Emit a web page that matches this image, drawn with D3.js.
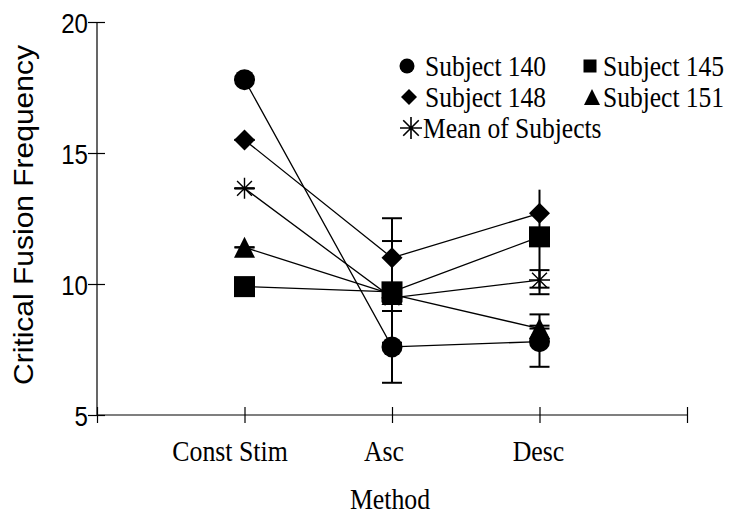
<!DOCTYPE html>
<html>
<head>
<meta charset="utf-8">
<script src="https://cdn.jsdelivr.net/npm/d3@7"></script>
<style>
  html, body { margin: 0; padding: 0; background: #fff; }
  svg { display: block; }
</style>
</head>
<body>
<div id="chart"></div>
<script>
// Critical fusion frequency by psychophysical method, four subjects plus their mean
const methods = ["Const Stim", "Asc", "Desc"];
const methodPos = [1, 2, 3];
const xTicks = [0, 1, 2, 3, 4];
const yTicks = [5, 10, 15, 20];

const seriesNames = ["Subject 140", "Subject 145", "Subject 148", "Subject 151", "Mean of Subjects"];
const seriesSymbols = ["circle", "square", "diamond", "triangle", "asterisk"];

const s140 = [17.8, 7.6, 7.8];
const s145 = [9.9, 9.7, 11.8];
const s148 = [15.5, 11.0, 12.7];
const s151 = [11.4, 9.6, 8.3];
const meanCFF = [13.65, 9.47, 10.15];

// lower / upper ends of the error bars
const s140Lo = [17.8, 6.23, 6.84];
const s140Hi = [17.8, 8.97, 8.84];
const s145Lo = [9.9, 7.76, 9.61];
const s145Hi = [9.9, 11.64, 12.0];
const s148Lo = [15.5, 9.5, 11.8];
const s148Hi = [15.5, 12.51, 13.6];
const s151Lo = [11.4, 9.5, 8.3];
const s151Hi = [11.4, 9.7, 8.41];
const meanLo = [13.65, 9.3, 9.86];
const meanHi = [13.65, 9.65, 10.53];
// whether the upper end carries a cap
const s148HiCap = [true, true, false];

const values = [s140, s145, s148, s151, meanCFF];
const lows = [s140Lo, s145Lo, s148Lo, s151Lo, meanLo];
const highs = [s140Hi, s145Hi, s148Hi, s151Hi, meanHi];
const hiCaps = [null, null, s148HiCap, null, null];

const W = 731, H = 517;
const svg = d3.select("#chart").append("svg")
  .attr("width", W).attr("height", H)
  .style("background", "#fff");

const x = d3.scaleLinear().domain([0, 4]).range([97, 687]);
const y = d3.scaleLinear().domain([5, 20]).range([415, 22]);

const sansFont = "'Liberation Sans', Arial, Helvetica, sans-serif";
const serifFont = "'Liberation Serif', 'Times New Roman', Times, serif";

// ---- axes ----
const yAxis = svg.append("g")
  .attr("transform", `translate(${x(0)},0)`)
  .call(d3.axisLeft(y).tickValues(yTicks).tickSize(9).tickPadding(0).tickFormat(d3.format("d")));
yAxis.select(".domain").attr("d", `M0,${y(20)}V${y(5)}`).attr("stroke", "#000").attr("stroke-width", 1.2);
yAxis.selectAll(".tick line").attr("x1", -9).attr("x2", 8).attr("stroke", "#000").attr("stroke-width", 1.2);
yAxis.selectAll(".tick text")
  .attr("dy", "0.36em")
  .style("font-family", sansFont)
  .style("font-size", "28px")
  .attr("fill", "#000")
  .attr("transform", "scale(0.86,1)")
  .attr("x", -9 / 0.86);

const xAxis = svg.append("g")
  .attr("transform", `translate(0,${y(5)})`)
  .call(d3.axisBottom(x).tickValues(xTicks).tickSize(8).tickFormat(""));
xAxis.select(".domain").attr("d", `M${x(0)},0H${x(4)}`).attr("stroke", "#000").attr("stroke-width", 1.2);
xAxis.selectAll(".tick line").attr("y1", -8).attr("y2", 8).attr("stroke", "#000").attr("stroke-width", 1.2);

// category labels under the ticks
const labelOffsets = [-14.5, -8, -1];
svg.append("g").selectAll("text")
  .data(methods)
  .join("text")
  .attr("transform", (d, i) => `translate(${x(methodPos[i]) + labelOffsets[i]},461) scale(0.89,1)`)
  .attr("text-anchor", "middle")
  .style("font-family", serifFont)
  .style("font-size", "29px")
  .attr("fill", "#000")
  .text(d => d);

svg.append("text")
  .attr("transform", `translate(390,509) scale(0.89,1)`)
  .attr("text-anchor", "middle")
  .style("font-family", serifFont)
  .style("font-size", "29px")
  .attr("fill", "#000")
  .text("Method");

svg.append("text")
  .attr("transform", `translate(33,215) scale(0.9,1) rotate(-90)`)
  .attr("text-anchor", "middle")
  .style("font-family", sansFont)
  .style("font-size", "30px")
  .attr("fill", "#000")
  .text("Critical Fusion Frequency");

// ---- marker shapes ----
function drawSymbol(g, kind, cx, cy, s, sw) {
  const h = s / 2;
  if (kind === "circle") {
    g.append("circle").attr("cx", cx).attr("cy", cy).attr("r", h).attr("fill", "#000");
  } else if (kind === "square") {
    g.append("rect").attr("x", cx - h).attr("y", cy - h).attr("width", s).attr("height", s).attr("fill", "#000");
  } else if (kind === "diamond") {
    g.append("path").attr("d", `M${cx},${cy - h}L${cx + h},${cy}L${cx},${cy + h}L${cx - h},${cy}Z`).attr("fill", "#000");
  } else if (kind === "triangle") {
    g.append("path").attr("d", `M${cx},${cy - h}L${cx + h},${cy + h}L${cx - h},${cy + h}Z`).attr("fill", "#000");
  } else if (kind === "asterisk") {
    const d = h * Math.SQRT1_2;
    g.append("path")
      .attr("d", `M${cx - h},${cy}H${cx + h}M${cx},${cy - h}V${cy + h}` +
                 `M${cx - d},${cy - d}L${cx + d},${cy + d}M${cx - d},${cy + d}L${cx + d},${cy - d}`)
      .attr("fill", "none").attr("stroke", "#000").attr("stroke-width", sw || 1.4);
  }
}

// ---- connecting lines ----
const line = d3.line().x((d, i) => x(methodPos[i])).y(d => y(d));
svg.append("g").selectAll("path.series")
  .data(values)
  .join("path")
  .attr("class", "series")
  .attr("d", d => line(d))
  .attr("fill", "none")
  .attr("stroke", "#000")
  .attr("stroke-width", 1.3);

// ---- error bars ----
const capHalf = 10;
const eb = svg.append("g").attr("stroke", "#000").attr("stroke-width", 2);
values.forEach((vals, si) => {
  vals.forEach((v, mi) => {
    const cx = x(methodPos[mi]);
    const lo = lows[si][mi], hi = highs[si][mi];
    eb.append("line").attr("x1", cx).attr("x2", cx).attr("y1", y(lo)).attr("y2", y(hi));
    eb.append("line").attr("x1", cx - capHalf).attr("x2", cx + capHalf).attr("y1", y(lo)).attr("y2", y(lo));
    const capTop = hiCaps[si] ? hiCaps[si][mi] : true;
    if (capTop) {
      eb.append("line").attr("x1", cx - capHalf).attr("x2", cx + capHalf).attr("y1", y(hi)).attr("y2", y(hi));
    }
  });
});

// ---- markers ----
const marks = svg.append("g");
values.forEach((vals, si) => {
  vals.forEach((v, mi) => {
    drawSymbol(marks, seriesSymbols[si], x(methodPos[mi]), y(v), 21);
  });
});

// ---- legend ----
const legendItems = [
  { i: 0, mx: 407, tx: 425, cy: 66, size: 15 },
  { i: 1, mx: 590, tx: 603, cy: 66, size: 13 },
  { i: 2, mx: 409, tx: 425, cy: 97, size: 16 },
  { i: 3, mx: 592, tx: 603, cy: 97, size: 16 },
  { i: 4, mx: 411, tx: 423, cy: 128, size: 22 }
];
const legend = svg.append("g");
legendItems.forEach(it => {
  drawSymbol(legend, seriesSymbols[it.i], it.mx, it.cy, it.size, 1.6);
  legend.append("text")
    .attr("transform", `translate(${it.tx},${it.cy + 10}) scale(0.88,1)`)
    .style("font-family", serifFont)
    .style("font-size", "29px")
    .attr("fill", "#000")
    .text(seriesNames[it.i]);
});
</script>
</body>
</html>
